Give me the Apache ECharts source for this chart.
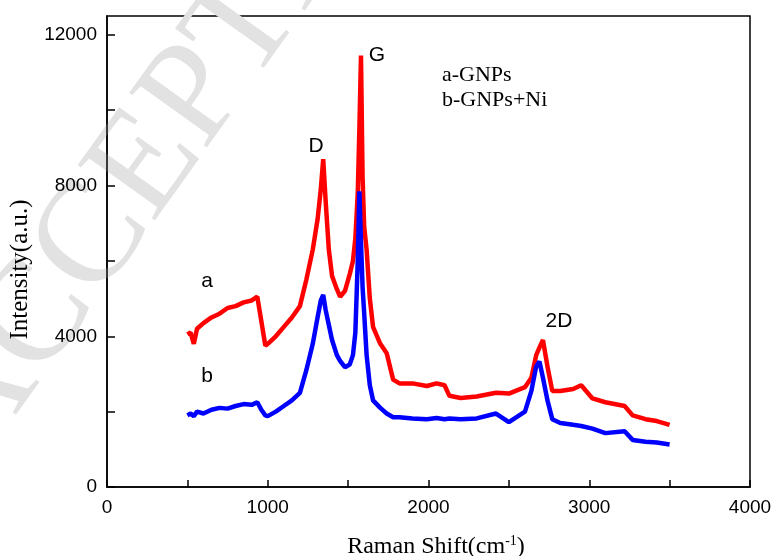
<!DOCTYPE html>
<html>
<head>
<meta charset="utf-8">
<script src="https://cdn.jsdelivr.net/npm/echarts@6/dist/echarts.min.js"></script>
<style>
  html, body { margin: 0; padding: 0; background: #fff; }
  #chart { width: 773px; height: 556px; }
</style>
</head>
<body>
<div id="chart"></div>
<script>
// Raman shift (cm-1), shared by both spectra
const shift = [500, 520, 540, 560, 600, 650, 700, 750, 800, 850, 900, 935, 960, 985, 1000,
  1050, 1100, 1150, 1200, 1240, 1280, 1310, 1330, 1345, 1360, 1380, 1400, 1430, 1450, 1480,
  1510, 1530, 1545, 1560, 1570, 1580, 1590, 1600, 1615, 1635, 1655, 1700, 1740, 1780, 1820,
  1900, 1990, 2050, 2100, 2130, 2200, 2300, 2420, 2500, 2600, 2640, 2670, 2690, 2712, 2740,
  2770, 2820, 2900, 2950, 3020, 3100, 3220, 3270, 3350, 3420, 3500];

// a - GNPs
const intensityA = [4050, 4100, 3800, 4200, 4350, 4500, 4600, 4750, 4800, 4900, 4950, 5050, 4400, 3750, 3800,
  4000, 4250, 4500, 4800, 5500, 6300, 7100, 7900, 8700, 7600, 6300, 5600, 5250, 5050, 5200,
  5650, 6000, 6600, 7800, 9500, 11450, 8200, 6900, 6300, 5000, 4250, 3800, 3550, 2850, 2750,
  2750, 2680, 2750, 2700, 2420, 2360, 2400, 2500, 2480, 2650, 2900, 3500, 3700, 3900, 3200,
  2550, 2550, 2600, 2700, 2350, 2250, 2150, 1900, 1800, 1750, 1650];

// b - GNPs+Ni
const intensityB = [1900, 1950, 1880, 2000, 1950, 2050, 2100, 2080, 2150, 2200, 2180, 2250, 2050, 1900, 1880,
  2000, 2150, 2300, 2500, 3100, 3800, 4500, 4950, 5100, 4700, 4300, 3900, 3500, 3350, 3180,
  3250, 3500, 4100, 6000, 7850, 6500, 5300, 4600, 3500, 2700, 2300, 2100, 1950, 1850, 1850,
  1820, 1800, 1830, 1800, 1820, 1800, 1820, 1950, 1720, 2000, 2550, 3200, 3330, 2900, 2300,
  1800, 1700, 1650, 1620, 1550, 1430, 1480, 1250, 1200, 1180, 1130];

const legendLines = ['a-GNPs', 'b-GNPs+Ni'];

const chart = echarts.init(document.getElementById('chart'));

const pairs = (ys) => shift.map((x, i) => [x, ys[i]]);

const serif = 'Liberation Serif';
const sans = 'Liberation Sans';

const option = {
  backgroundColor: '#fff',
  animation: false,
  grid: {
    left: 107,
    right: 23,
    top: 16,
    bottom: 69,
    outerBoundsMode: 'none',
    containLabel: false,
    show: true,
    borderColor: '#000',
    borderWidth: 1.5,
  },
  xAxis: {
    type: 'value',
    min: 0,
    max: 4000,
    interval: 500,
    name: 'Raman Shift(cm{sup|-1})',
    nameLocation: 'middle',
    nameGap: 47,
    nameTextStyle: {
      fontFamily: serif,
      fontSize: 24,
      color: '#000',
      padding: [0, 0, 0, 15],
      rich: {
        sup: { fontFamily: serif, fontSize: 14, verticalAlign: 'top', padding: [0, 0, 12, 0], color: '#000' },
      },
    },
    axisLine: { lineStyle: { color: '#000', width: 1.5 } },
    axisTick: { inside: true, length: 7, lineStyle: { color: '#000', width: 1.5 } },
    splitLine: { show: false },
    axisLabel: {
      margin: 11,
      fontFamily: sans,
      fontSize: 19,
      color: '#000',
      formatter: (v) => (v % 1000 === 0 ? String(v) : ''),
    },
  },
  yAxis: {
    type: 'value',
    min: 0,
    max: 12500,
    interval: 2000,
    name: 'Intensity(a.u.)',
    nameLocation: 'middle',
    nameGap: 72,
    nameTextStyle: { fontFamily: serif, fontSize: 25, color: '#000', padding: [0, 36, 0, 0] },
    axisLine: { show: true, lineStyle: { color: '#000', width: 1.5 } },
    axisTick: { show: true, inside: true, length: 8, lineStyle: { color: '#000', width: 1.5 } },
    splitLine: { show: false },
    axisLabel: {
      margin: 10,
      fontFamily: sans,
      fontSize: 19,
      color: '#000',
      showMaxLabel: false,
      formatter: (v) => (v % 4000 === 0 && v <= 12000 ? String(v) : ''),
    },
  },
  graphic: [
    {
      type: 'text', z: 0, x: -52, y: 444, rotation: 0.95,
      style: { text: 'ACCEPTED MANUSCRIPT', fontFamily: serif, fontSize: 145, fill: '#e2e2e2', textVerticalAlign: 'middle' },
    },
    { type: 'text', z: 10, x: 377, y: 55, style: { text: 'G', fontFamily: sans, fontSize: 21, fill: '#000', textAlign: 'center', textVerticalAlign: 'middle' } },
    { type: 'text', z: 10, x: 316, y: 146, style: { text: 'D', fontFamily: sans, fontSize: 21, fill: '#000', textAlign: 'center', textVerticalAlign: 'middle' } },
    { type: 'text', z: 10, x: 207, y: 281, style: { text: 'a', fontFamily: sans, fontSize: 21, fill: '#000', textAlign: 'center', textVerticalAlign: 'middle' } },
    { type: 'text', z: 10, x: 207, y: 376, style: { text: 'b', fontFamily: sans, fontSize: 21, fill: '#000', textAlign: 'center', textVerticalAlign: 'middle' } },
    { type: 'text', z: 10, x: 559, y: 321, style: { text: '2D', fontFamily: sans, fontSize: 21, fill: '#000', textAlign: 'center', textVerticalAlign: 'middle' } },
    { type: 'text', z: 10, x: 442, y: 75, style: { text: legendLines[0], fontFamily: serif, fontSize: 22, fill: '#000', textVerticalAlign: 'middle' } },
    { type: 'text', z: 10, x: 442, y: 100, style: { text: legendLines[1], fontFamily: serif, fontSize: 22, fill: '#000', textVerticalAlign: 'middle' } },
  ],
  series: [
    {
      name: 'a-GNPs',
      type: 'line',
      data: pairs(intensityA),
      showSymbol: false,
      lineStyle: { color: '#ff0000', width: 4.5 },
      z: 3,
    },
    {
      name: 'b-GNPs+Ni',
      type: 'line',
      data: pairs(intensityB),
      showSymbol: false,
      lineStyle: { color: '#0000ff', width: 4.5 },
      z: 4,
    },
  ],
};

chart.setOption(option);
</script>
</body>
</html>
